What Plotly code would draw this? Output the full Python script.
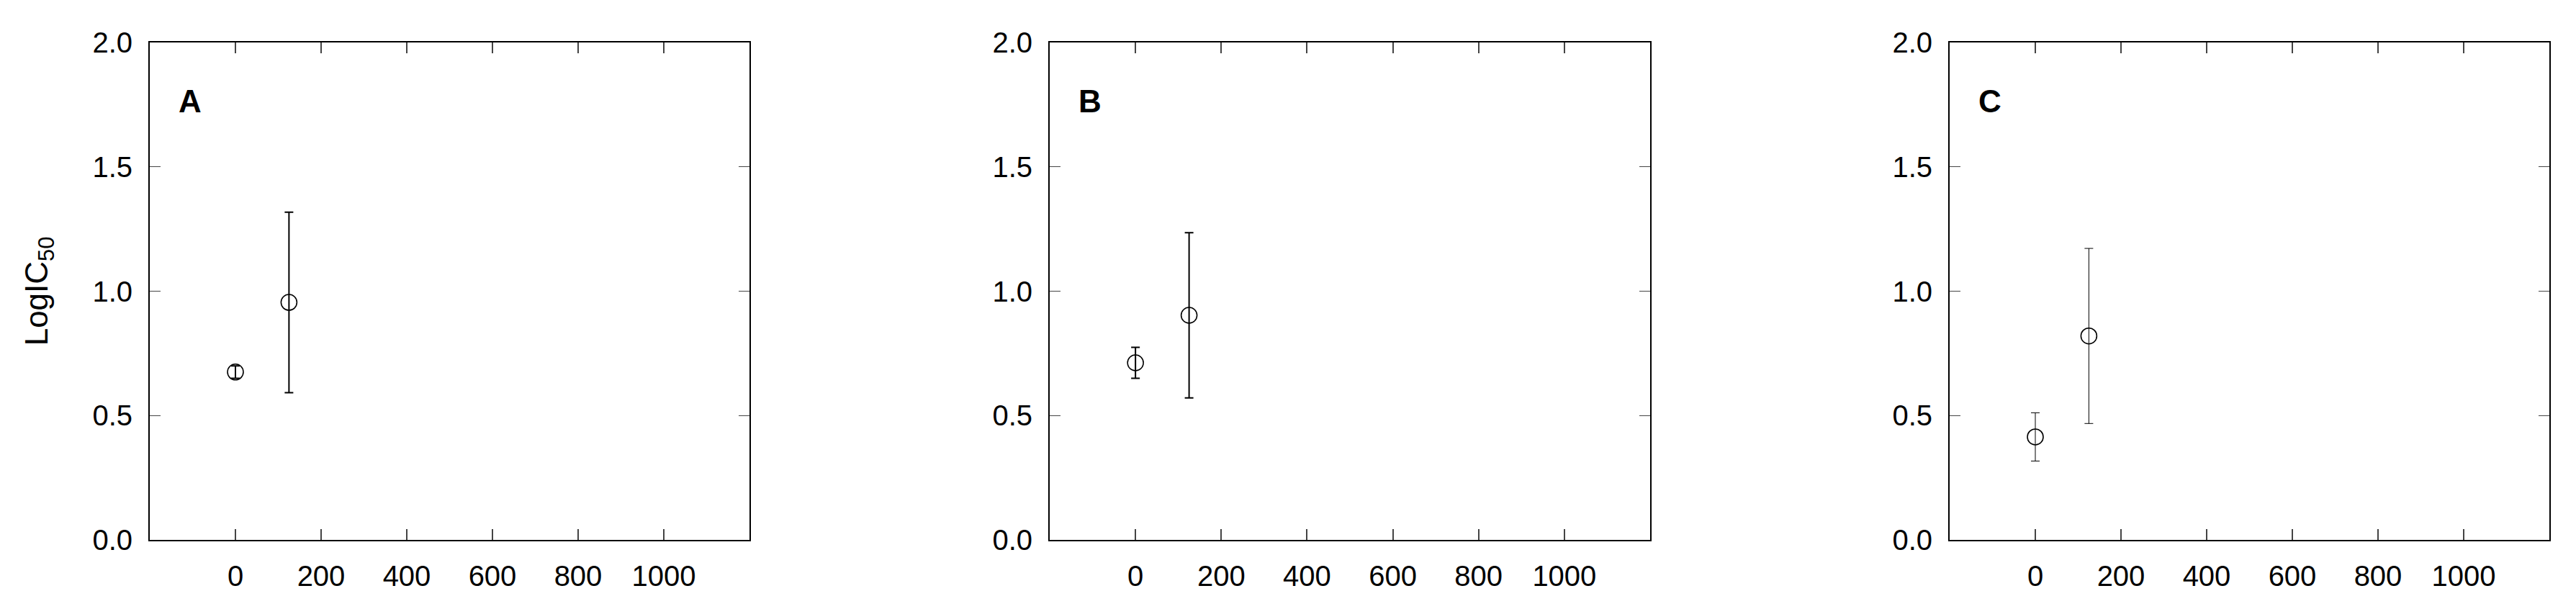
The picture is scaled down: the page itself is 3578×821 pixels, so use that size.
import plotly.graph_objects as go
from plotly.subplots import make_subplots

# 数据
panels = ["A", "B", "C"]
dose = [0, 125]
logic50_a = [0.675, 0.955]
err_a = [0.025, 0.363]
logic50_b = [0.712, 0.903]
err_b = [0.062, 0.332]
logic50_c = [0.414, 0.820]
err_c = [0.097, 0.352]

x_ticks = [0, 200, 400, 600, 800, 1000]
y_ticks = [0.0, 0.5, 1.0, 1.5, 2.0]
y_tick_text = ["0.0", "0.5", "1.0", "1.5", "2.0"]

W, H = 3578, 821
FONT = "Arial, Liberation Sans, sans-serif"

fig = make_subplots(rows=1, cols=3)

series = [(logic50_a, err_a, 2), (logic50_b, err_b, 2), (logic50_c, err_c, 1)]
for i, (vals, errs, ew) in enumerate(series):
    fig.add_trace(go.Scatter(
        x=dose, y=vals, mode="markers",
        marker=dict(symbol="circle-open", size=22, color="black", line=dict(width=1.6)),
        error_y=dict(type="data", array=errs, visible=True, color="black",
                     thickness=ew, width=6),
        showlegend=False,
    ), row=1, col=i + 1)

# 面板位置（像素 → 比例）
x_domains = [(200, 1033), (1450, 2284), (2700, 3533)]
for i, (l, r) in enumerate(x_domains):
    xa = "xaxis" if i == 0 else f"xaxis{i + 1}"
    ya = "yaxis" if i == 0 else f"yaxis{i + 1}"
    fig.layout[xa].update(
        domain=[l / W, r / W], range=[-200, 1200],
        tickvals=x_ticks, ticks="inside", ticklen=15, tickwidth=2,
        showline=True, linewidth=2, linecolor="black", mirror="ticks",
        showgrid=False, zeroline=False,
        tickfont=dict(family=FONT, size=40, color="black"),
        ticklabelstandoff=14,
    )
    fig.layout[ya].update(
        range=[0, 2], tickvals=y_ticks, ticktext=y_tick_text,
        ticks="inside", ticklen=15, tickwidth=1,
        showline=True, linewidth=2, linecolor="black", mirror="ticks",
        showgrid=False, zeroline=False,
        tickfont=dict(family=FONT, size=40, color="black"),
        ticklabelstandoff=14,
    )
    fig.add_annotation(
        text=f"<b>{panels[i]}</b>", showarrow=False,
        xref=f"x{'' if i == 0 else i + 1} domain", yref=f"y{'' if i == 0 else i + 1} domain",
        x=0.067, y=0.882, xanchor="center", yanchor="middle",
        font=dict(family=FONT, size=44, color="black"),
    )

fig.update_layout(
    yaxis_title=dict(text="LogIC<sub>50</sub>", font=dict(family=FONT, size=44, color="black"),
                     standoff=48),
    width=W, height=H,
    margin=dict(l=0, r=0, t=51, b=79),
    plot_bgcolor="white", paper_bgcolor="white",
)

fig.write_html("out.html")
